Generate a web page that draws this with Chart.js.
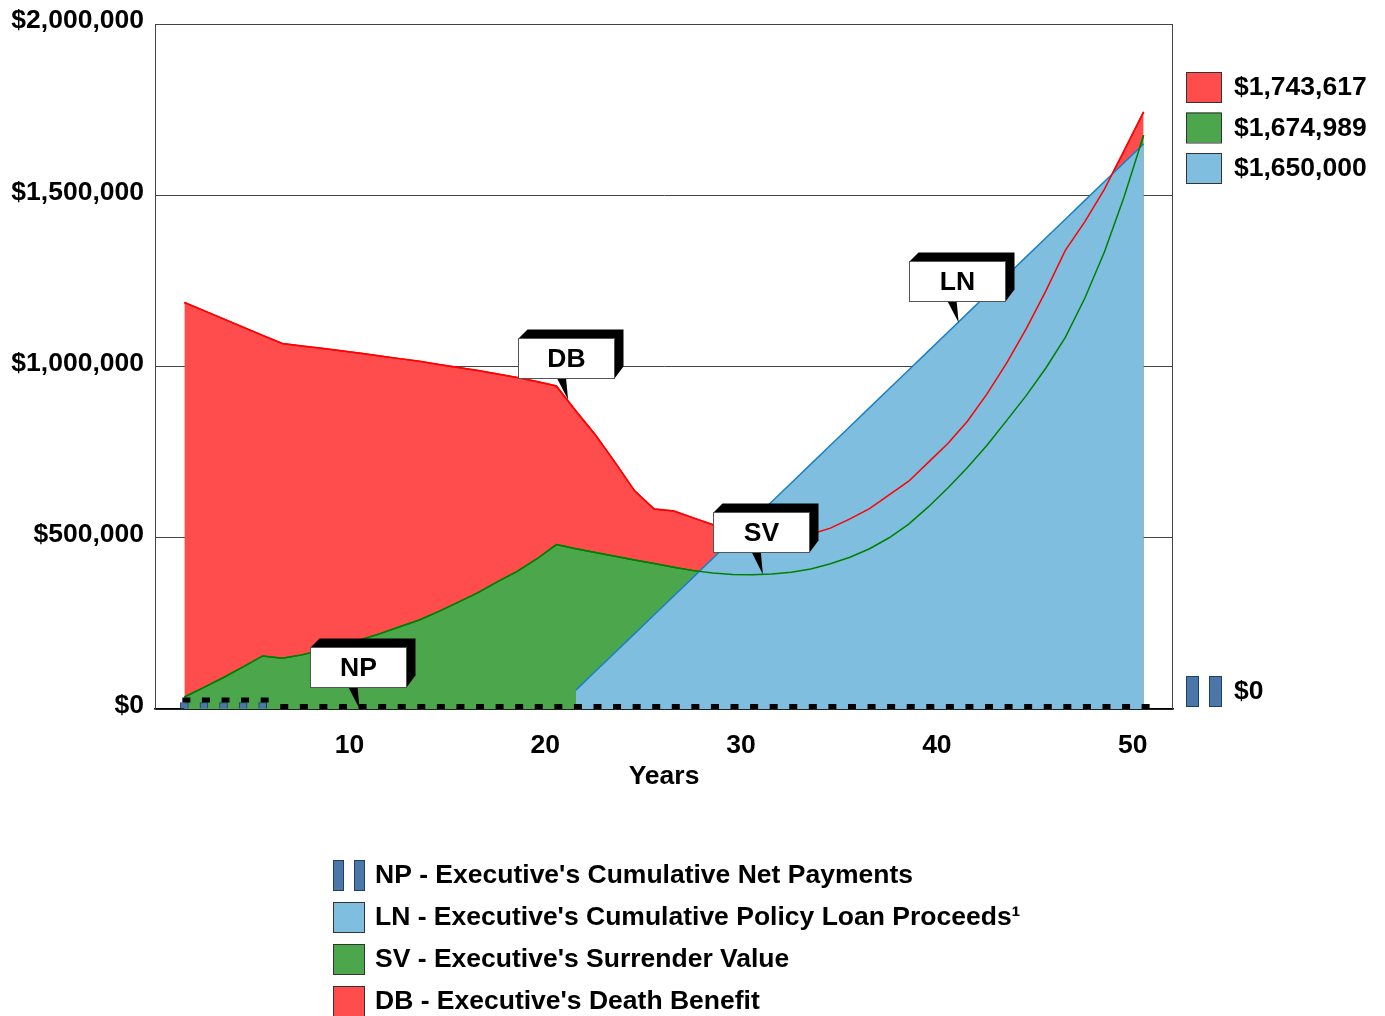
<!DOCTYPE html>
<html><head><meta charset="utf-8">
<script src="https://cdn.jsdelivr.net/npm/chart.js@4.4.0/dist/chart.umd.min.js"></script>
<style>html,body{margin:0;padding:0;background:#fff;overflow:hidden}#wrap{position:relative;width:1385px;height:1016px}</style>
</head><body><div id="wrap"><canvas id="c" width="1385" height="1016"></canvas></div>
<script>
// ---------- DATA ----------
const years = [1,2,3,4,5,6,7,8,9,10,11,12,13,14,15,16,17,18,19,20,21,22,23,24,25,26,27,28,29,30,31,32,33,34,35,36,37,38,39,40,41,42,43,44,45,46,47,48,49,50];
const xTickLabels = [10,20,30,40,50];
const yTickValues = [0,500000,1000000,1500000,2000000];

// NP - Executive's Cumulative Net Payments
const npValues = [19000,19000,19000,19000,19000,0,0,0,0,0,0,0,0,0,0,0,0,0,0,0,0,0,0,0,0,0,0,0,0,0,0,0,0,0,0,0,0,0,0,0,0,0,0,0,0,0,0,0,0,0];
// LN - Executive's Cumulative Policy Loan Proceeds
const lnValues = [null,null,null,null,null,null,null,null,null,null,null,null,null,null,null,null,null,null,null,null,
  55000,110000,165000,220000,275000,330000,385000,440000,495000,550000,605000,660000,715000,770000,825000,880000,935000,990000,1045000,1100000,
  1155000,1210000,1265000,1320000,1375000,1430000,1485000,1540000,1595000,1650000];
// SV - Executive's Surrender Value
const svValues = [35000,63000,92000,123000,155000,148000,158000,172000,188000,202000,220000,240000,260000,285000,312000,340000,372000,402000,438000,480000,
  468000,457000,446000,435000,425000,414000,404000,397000,393000,392000,394000,399000,409000,424000,443000,468000,500000,540000,590000,645000,
  705000,770000,842000,915000,995000,1085000,1200000,1335000,1495000,1674989];
// DB - Executive's Death Benefit
const dbValues = [1187000,1163000,1139000,1115000,1091000,1067000,1060000,1053000,1046000,1039000,1031000,1023000,1015000,1006000,997000,988000,978000,968000,956000,943000,
  870000,800000,720000,637000,584000,578000,558000,538000,525000,515000,508000,507000,510000,528000,555000,585000,625000,665000,720000,775000,
  840000,920000,1010000,1110000,1220000,1339000,1423000,1518000,1630000,1743617];

const legendLabels = [
  "NP - Executive's Cumulative Net Payments",
  "LN - Executive's Cumulative Policy Loan Proceeds\u00B9",
  "SV - Executive's Surrender Value",
  "DB - Executive's Death Benefit"
];
const callouts = [
  {text:'DB', series: dbValues, year: 20.55},
  {text:'NP', series: npValues, year: 9.9},
  {text:'SV', series: svValues, year: 30.5},
  {text:'LN', series: lnValues, year: 40.5}
];

// ---------- STYLE ----------
const FAM = '"Liberation Sans", Arial, Helvetica, sans-serif';
const FS = 26.5;
const C = {
  dbFill:'#FF4C4C', dbLine:'#FF0000',
  svFill:'#4CA64C', svLine:'#008000',
  lnFill:'#7FBEDF', lnLine:'#1A80C4',
  np:'#4A77A8', npBorder:'#1F3F66'
};
const pts = arr => years.map((x,i)=>({x:x, y:arr[i]}));
const money = v => '$' + Math.round(v).toLocaleString('en-US');

function interp(series, yr){
  const i = Math.floor(yr) - years[0];
  const f = yr - Math.floor(yr);
  const a = series[i], b = series[Math.min(i+1, series.length-1)];
  return a + (b - a) * f;
}

const decor = {
  id:'decor',
  afterDatasetsDraw(chart){
    const ctx = chart.ctx;
    const meta = chart.getDatasetMeta(5);
    ctx.save();
    ctx.fillStyle = '#000';
    meta.data.forEach(el => {
      const w = el.width;
      ctx.fillRect(el.x - w/2 + 2, el.y - 5, w, 5);
    });
    ctx.restore();
  },
  afterDraw(chart){
    const ctx = chart.ctx, a = chart.chartArea;
    const xs = chart.scales.x, ys = chart.scales.y;
    ctx.save();
    // frame
    ctx.strokeStyle = '#444'; ctx.lineWidth = 1;
    ctx.beginPath();
    ctx.moveTo(a.left+0.5, a.bottom); ctx.lineTo(a.left+0.5, a.top+0.5);
    ctx.lineTo(a.right-0.5, a.top+0.5); ctx.lineTo(a.right-0.5, a.bottom);
    ctx.stroke();

    // callouts
    const W = 96, H = 40, D = 9;
    callouts.forEach(c => {
      const tx = xs.getPixelForValue(c.year);
      const ty = ys.getPixelForValue(interp(c.series, c.year));
      const cx = tx - 1;
      const bx = Math.round(cx - W/2) + 0.5, by = Math.round(ty - 22 - H) + 0.5;
      ctx.fillStyle = '#000';
      ctx.beginPath();
      ctx.moveTo(bx, by); ctx.lineTo(bx + D, by - D); ctx.lineTo(bx + W + D, by - D);
      ctx.lineTo(bx + W + D, by + H - D - 3); ctx.lineTo(bx + W, by + H); ctx.closePath();
      ctx.fill();
      ctx.beginPath();
      ctx.moveTo(cx - 9, by + H); ctx.lineTo(cx, by + H); ctx.lineTo(tx + 1, ty); ctx.closePath();
      ctx.fill();
      ctx.fillStyle = '#fff'; ctx.fillRect(bx, by, W, H);
      ctx.strokeStyle = '#555'; ctx.lineWidth = 1; ctx.strokeRect(bx, by, W, H);
      ctx.fillStyle = '#000'; ctx.font = 'bold ' + FS + 'px ' + FAM;
      ctx.textAlign = 'center'; ctx.textBaseline = 'middle';
      ctx.fillText(c.text, bx + W/2, by + H/2 + 1);
    });

    // right-side value legend
    const rx = a.right + 13, tX = a.right + 61;
    ctx.font = 'bold ' + FS + 'px ' + FAM; ctx.textAlign = 'left'; ctx.textBaseline = 'middle';
    const rItems = [
      {fill:C.dbFill, v: dbValues[dbValues.length-1]},
      {fill:C.svFill, v: svValues[svValues.length-1]},
      {fill:C.lnFill, v: lnValues[lnValues.length-1]}
    ];
    rItems.forEach((it, i) => {
      const cy = a.top + 63 + i * 40.5;
      ctx.fillStyle = it.fill; ctx.fillRect(rx, cy - 15, 35, 30);
      ctx.strokeStyle = '#333'; ctx.strokeRect(rx + 0.5, cy - 14.5, 35, 30);
      ctx.fillStyle = '#000'; ctx.fillText(money(it.v), tX, cy + 1);
    });
    const npY = a.bottom - 18;
    [0, 23].forEach(dx => {
      ctx.fillStyle = C.np; ctx.fillRect(rx + dx, npY - 15, 12, 30);
      ctx.strokeStyle = C.npBorder; ctx.strokeRect(rx + dx + 0.5, npY - 14.5, 12, 30);
    });
    ctx.fillStyle = '#000'; ctx.fillText(money(npValues[npValues.length-1]), tX, npY + 1);

    // bottom legend
    const lx = 333, ltx = 375;
    const fills = [null, C.lnFill, C.svFill, C.dbFill];
    legendLabels.forEach((t, i) => {
      const cy = 875 + i * 42;
      if (i === 0) {
        [0, 21].forEach(dx => {
          ctx.fillStyle = C.np; ctx.fillRect(lx + dx, cy - 15, 10, 30);
          ctx.strokeStyle = C.npBorder; ctx.strokeRect(lx + dx + 0.5, cy - 14.5, 10, 30);
        });
      } else {
        ctx.fillStyle = fills[i]; ctx.fillRect(lx, cy - 15, 31, 30);
        ctx.strokeStyle = '#333'; ctx.strokeRect(lx + 0.5, cy - 14.5, 31, 30);
      }
      ctx.fillStyle = '#000'; ctx.fillText(t, ltx, cy + 1);
    });
    ctx.restore();
  }
};

new Chart(document.getElementById('c'), {
  type: 'line',
  data: {
    datasets: [
      {label:'DB', data: pts(dbValues), fill:'origin', backgroundColor:C.dbFill, borderColor:C.dbLine, borderWidth:1.5, pointRadius:0, order:10, tension:0},
      {label:'SV', data: pts(svValues), fill:'origin', backgroundColor:C.svFill, borderColor:C.svLine, borderWidth:1.5, pointRadius:0, order:9, tension:0},
      {label:'LN', data: pts(lnValues), fill:'origin', backgroundColor:C.lnFill, borderColor:C.lnLine, borderWidth:1.5, pointRadius:0, order:8, tension:0, spanGaps:false},
      {label:'DB line', data: pts(dbValues), fill:false, borderColor:C.dbLine, borderWidth:1.5, pointRadius:0, order:7},
      {label:'SV line', data: pts(svValues), fill:false, borderColor:C.svLine, borderWidth:1.5, pointRadius:0, order:6},
      {type:'bar', label:'NP', data: pts(npValues), backgroundColor:C.np, borderColor:C.npBorder, borderWidth:1, barThickness:8, order:1, grouped:false}
    ]
  },
  options: {
    responsive:false, animation:false,
    devicePixelRatio:1,
    layout:{padding:{top:24, right:212, bottom:217, left:0}},
    plugins:{legend:{display:false}, tooltip:{enabled:false}},
    font:{family:FAM},
    scales:{
      x:{
        type:'linear', min:-0.5, max:51.5, offset:false,
        afterFit: s => { s.height = 90; s.paddingLeft = 0; s.paddingRight = 0; },
        afterBuildTicks: s => { s.ticks = xTickLabels.map(v => ({value:v})); },
        grid:{display:false, drawTicks:false, offset:false},
        border:{display:true, color:'#000', width:1.5},
        ticks:{padding:21, labelOffset:-11, color:'#000', font:{family:FAM, size:FS, weight:'bold'}, maxRotation:0, autoSkip:false},
        title:{display:true, text:'Years', color:'#000', font:{family:FAM, size:FS, weight:'bold'}, padding:{top:0, bottom:6}}
      },
      y:{
        type:'linear', min:0, max:2000000,
        afterFit: s => { s.width = 155; s.paddingTop = 0; s.paddingBottom = 0; },
        afterBuildTicks: s => { s.ticks = yTickValues.map(v => ({value:v})); },
        grid:{color:'#444', lineWidth:1, drawTicks:false},
        border:{display:true, color:'#444'},
        ticks:{padding:11, labelOffset:-3, color:'#000', font:{family:FAM, size:FS, weight:'bold'}, callback: v => money(v)}
      }
    }
  },
  plugins:[decor]
});
</script>
</body></html>
